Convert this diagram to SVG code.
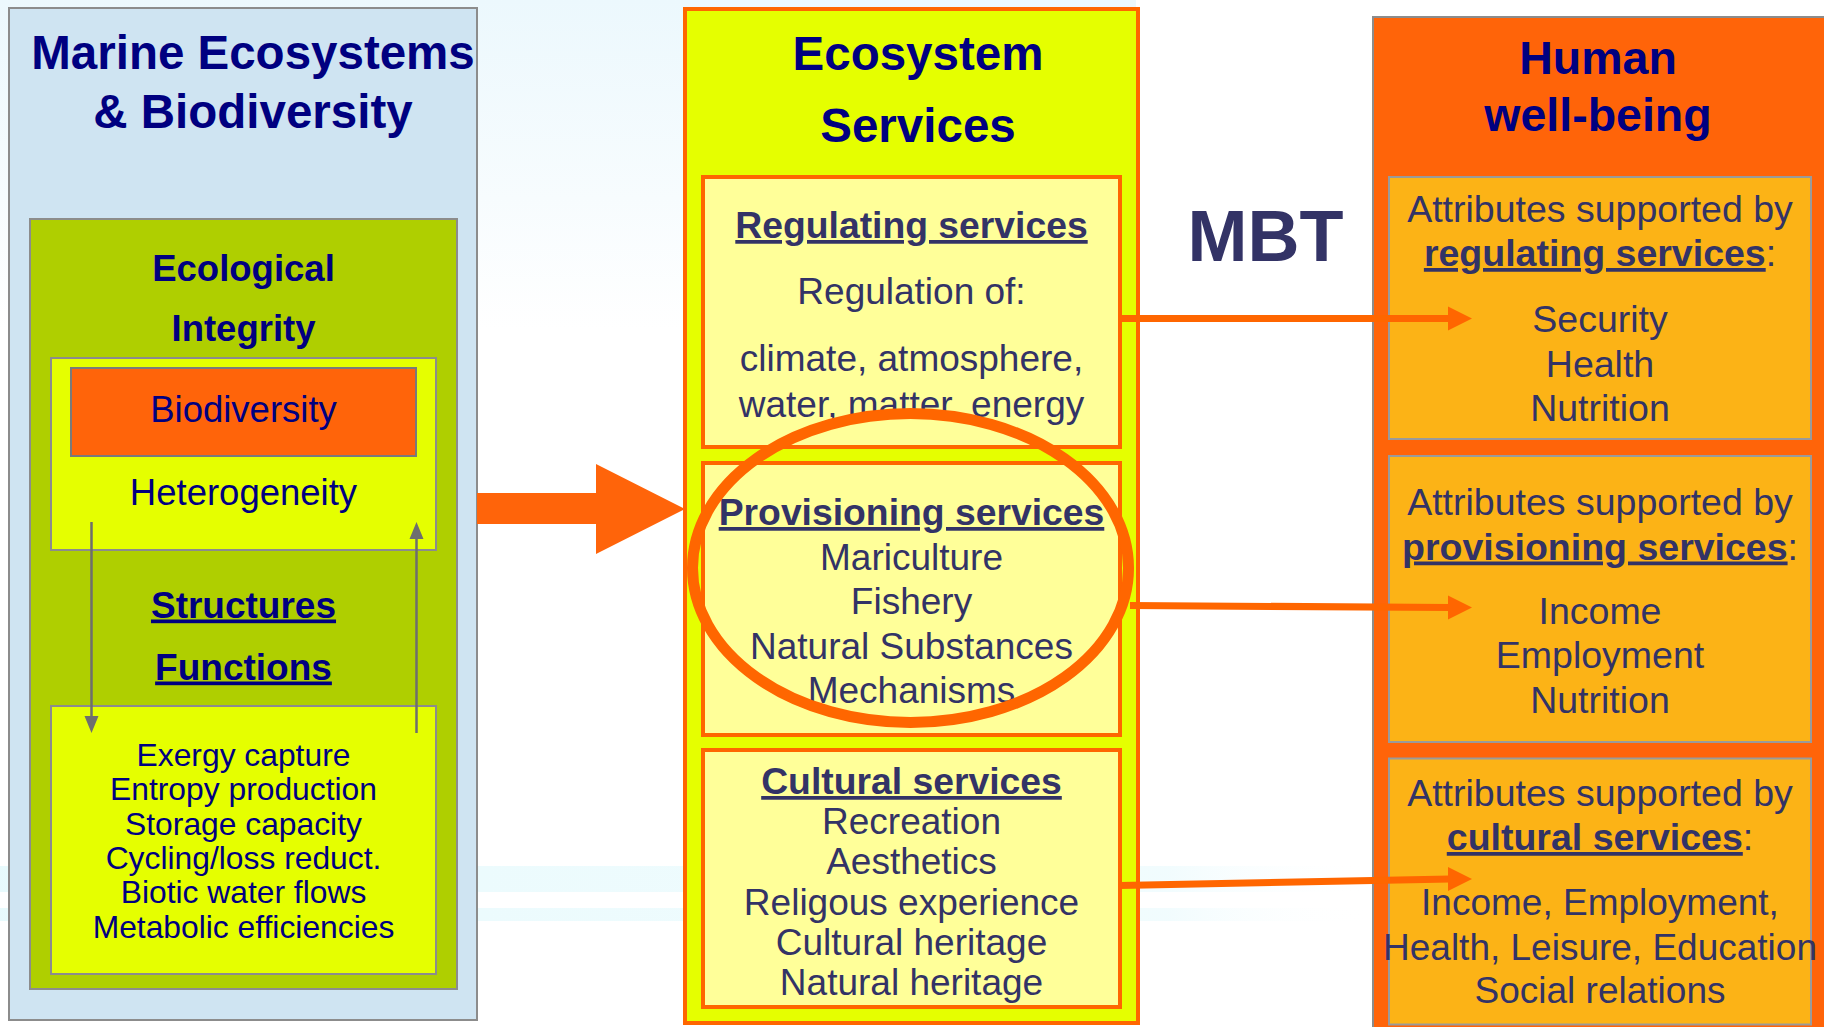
<svg xmlns="http://www.w3.org/2000/svg" width="1824" height="1027" viewBox="0 0 1824 1027">
<defs>
<style>
text{font-family:"Liberation Sans",Arial,sans-serif;text-anchor:middle}
.navy{fill:#000080}
.slate{fill:#333366}
.b{font-weight:bold}
.u{text-decoration:underline}
.gbox{stroke:#8c8c8c;stroke-width:2}
.svc{fill:#FFFF99;stroke:#FF6600;stroke-width:4}
.attr{fill:#FCB316;stroke:#9a9a9a;stroke-width:2}
.conn{stroke:#FF6600;stroke-width:7;fill:none}
.garrow{stroke:#6e6e6e;stroke-width:2.5;fill:none}
</style>
<linearGradient id="band" x1="0" y1="0" x2="1" y2="0">
<stop offset="0" stop-color="#e2f9fc" stop-opacity="0.8"/>
<stop offset="0.85" stop-color="#e8fafd" stop-opacity="0.6"/>
<stop offset="1" stop-color="#ffffff" stop-opacity="0"/>
</linearGradient>
<linearGradient id="topfade" x1="0" y1="0" x2="0" y2="1">
<stop offset="0" stop-color="#ecf8fd"/>
<stop offset="0.6" stop-color="#f7fcfe"/>
<stop offset="1" stop-color="#ffffff"/>
</linearGradient>
</defs>
<rect x="0" y="0" width="1824" height="1027" fill="#ffffff"/>
<rect x="0" y="0" width="1136" height="330" fill="url(#topfade)"/>
<rect x="0" y="866" width="1373" height="26" fill="url(#band)"/>
<rect x="0" y="908" width="1373" height="13" fill="url(#band)"/>

<g id="marine-ecosystems">
<rect x="9" y="8" width="468" height="1012" fill="#CFE4F2" class="gbox"/>
<text x="253" y="69" class="navy b" font-size="47.5">Marine Ecosystems</text>
<text x="253" y="127.5" class="navy b" font-size="47.5">&amp; Biodiversity</text>
</g>

<g id="ecological-integrity">
<rect x="30" y="219" width="427" height="770" fill="#AFCF00" class="gbox"/>
<text x="243.5" y="280.5" class="navy b" font-size="36.5">Ecological</text>
<text x="243.5" y="341" class="navy b" font-size="36.5">Integrity</text>
<text x="243.5" y="617.5" class="navy b u" font-size="37">Structures</text>
<text x="243.5" y="679.5" class="navy b u" font-size="37">Functions</text>
</g>

<g id="heterogeneity">
<rect x="51" y="358" width="385" height="192" fill="#E5FF00" class="gbox"/>
<text x="243.5" y="505" class="navy" font-size="36.5">Heterogeneity</text>
</g>

<g id="biodiversity">
<rect x="71" y="368" width="345" height="88" fill="#FF640A" stroke="#7a7a7a" stroke-width="2"/>
<text x="243.5" y="422" class="navy" font-size="36.5">Biodiversity</text>
</g>

<g id="functions-list">
<rect x="51" y="706" width="385" height="268" fill="#E5FF00" class="gbox"/>
<text x="243.5" y="765.5" class="navy" font-size="31.8">Exergy capture</text>
<text x="243.5" y="800" class="navy" font-size="31.8">Entropy production</text>
<text x="243.5" y="834.5" class="navy" font-size="31.8">Storage capacity</text>
<text x="243.5" y="869" class="navy" font-size="31.8">Cycling/loss reduct.</text>
<text x="243.5" y="903" class="navy" font-size="31.8">Biotic water flows</text>
<text x="243.5" y="937.5" class="navy" font-size="31.8">Metabolic efficiencies</text>
</g>

<g id="ecosystem-services">
<rect x="685" y="9" width="453" height="1014" fill="#E5FF00" stroke="#FF6600" stroke-width="4"/>
<text x="918" y="70" class="navy b" font-size="47.5">Ecosystem</text>
<text x="918" y="141.5" class="navy b" font-size="47.5">Services</text>
</g>

<g id="regulating-services">
<rect x="703" y="177" width="417" height="270" class="svc"/>
<text x="911.5" y="238" class="slate b u" font-size="37.3">Regulating services</text>
<text x="911.5" y="304" class="slate" font-size="37">Regulation of:</text>
<text x="911.5" y="370.5" class="slate" font-size="37">climate, atmosphere,</text>
<text x="911.5" y="416.5" class="slate" font-size="37">water, matter, energy</text>
</g>

<g id="provisioning-services">
<rect x="703" y="463" width="417" height="272" class="svc"/>
<text x="911.5" y="525" class="slate b u" font-size="37.3">Provisioning services</text>
<text x="911.5" y="569.5" class="slate" font-size="37">Mariculture</text>
<text x="911.5" y="614" class="slate" font-size="37">Fishery</text>
<text x="911.5" y="658.5" class="slate" font-size="37">Natural Substances</text>
<text x="911.5" y="703" class="slate" font-size="37">Mechanisms</text>
</g>

<g id="cultural-services">
<rect x="703" y="750" width="417" height="257" class="svc"/>
<text x="911.5" y="794" class="slate b u" font-size="37.3">Cultural services</text>
<text x="911.5" y="834" class="slate" font-size="37">Recreation</text>
<text x="911.5" y="874" class="slate" font-size="37">Aesthetics</text>
<text x="911.5" y="914.5" class="slate" font-size="37">Religous experience</text>
<text x="911.5" y="954.5" class="slate" font-size="37">Cultural heritage</text>
<text x="911.5" y="994.5" class="slate" font-size="37">Natural heritage</text>
</g>

<g id="provisioning-highlight">
<ellipse cx="910.5" cy="568" rx="218" ry="154.5" fill="none" stroke="#FF6600" stroke-width="11"/>
</g>

<g id="mbt-label">
<text x="1265.5" y="260.5" class="slate b" font-size="72">MBT</text>
</g>

<g id="human-well-being">
<rect x="1373" y="17" width="460" height="1020" fill="#FF6409" class="gbox"/>
<text x="1598" y="74" class="navy b" font-size="46.5">Human</text>
<text x="1598" y="131" class="navy b" font-size="46.5">well-being</text>
</g>

<g id="attributes-regulating">
<rect x="1389" y="177" width="422" height="262" class="attr"/>
<text x="1600" y="222" class="slate" font-size="37.5">Attributes supported by</text>
<text x="1600" y="266" class="slate" font-size="37.5"><tspan class="b u">regulating services</tspan>:</text>
<text x="1600" y="332" class="slate" font-size="37.5">Security</text>
<text x="1600" y="376.5" class="slate" font-size="37.5">Health</text>
<text x="1600" y="421" class="slate" font-size="37.5">Nutrition</text>
</g>

<g id="attributes-provisioning">
<rect x="1389" y="456" width="422" height="286" class="attr"/>
<text x="1600" y="515" class="slate" font-size="37.5">Attributes supported by</text>
<text x="1600" y="559.5" class="slate" font-size="37.5"><tspan class="b u">provisioning services</tspan>:</text>
<text x="1600" y="624" class="slate" font-size="37.5">Income</text>
<text x="1600" y="668" class="slate" font-size="37.5">Employment</text>
<text x="1600" y="713" class="slate" font-size="37.5">Nutrition</text>
</g>

<g id="attributes-cultural">
<rect x="1389" y="758.5" width="422" height="266" class="attr"/>
<text x="1600" y="806" class="slate" font-size="37.5">Attributes supported by</text>
<text x="1600" y="850" class="slate" font-size="37.5"><tspan class="b u">cultural services</tspan>:</text>
<text x="1600" y="915" class="slate" font-size="37">Income, Employment,</text>
<text x="1600" y="960" class="slate" font-size="37">Health, Leisure, Education</text>
<text x="1600" y="1003" class="slate" font-size="37">Social relations</text>
</g>

<g id="connectors">
<polygon points="477,493 596,493 596,464 685,509 596,554 596,524 477,524" fill="#FF640A"/>
<line x1="91.5" y1="522" x2="91.5" y2="718" class="garrow"/>
<polygon points="84.5,716 98.5,716 91.5,733" fill="#6e6e6e"/>
<line x1="416.5" y1="733" x2="416.5" y2="537" class="garrow"/>
<polygon points="409.5,539 423.5,539 416.5,522" fill="#6e6e6e"/>
<line x1="1120" y1="318.5" x2="1450" y2="318.5" class="conn"/>
<polygon points="1448,306.5 1472,318.5 1448,330.5" fill="#FF6600"/>
<line x1="1130" y1="605.5" x2="1450" y2="607.5" class="conn"/>
<polygon points="1448,595.5 1472,607.5 1448,619.5" fill="#FF6600"/>
<line x1="1120" y1="885.5" x2="1450" y2="879" class="conn"/>
<polygon points="1448,867 1472,879 1448,891" fill="#FF6600"/>
</g>
</svg>
